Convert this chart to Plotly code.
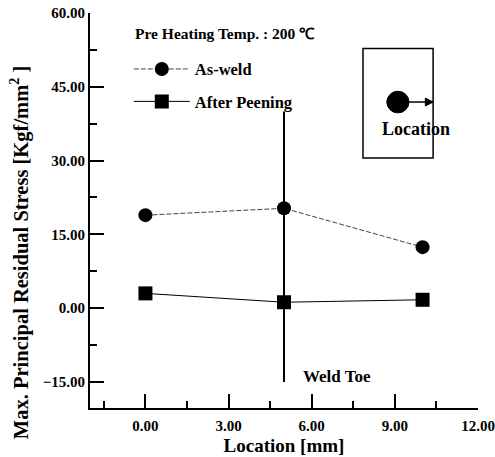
import plotly.graph_objects as go

location = [0, 5, 10]
as_weld = [18.9, 20.3, 12.4]
after_peening = [3.0, 1.2, 1.7]
x_ticks = [0, 3, 6, 9, 12]
y_ticks = [-15, 0, 15, 30, 45, 60]
weld_toe_x = 5

FONT = "Liberation Serif"

fig = go.Figure()
fig.add_trace(go.Scatter(
    x=location, y=as_weld, mode="lines+markers", name="<b>As-weld</b>",
    legendgroup="a",
    line=dict(color="#444", width=1, dash="5px,2px"),
    marker=dict(symbol="circle", size=14, color="black"),
))
fig.add_trace(go.Scatter(
    x=location, y=after_peening, mode="lines+markers", name="<b>After Peening</b>",
    legendgroup="b",
    line=dict(color="black", width=1),
    marker=dict(symbol="square", size=14, color="black"),
))

# weld toe vertical line
fig.add_shape(type="line", x0=weld_toe_x, x1=weld_toe_x, y0=-15, y1=40,
              xref="x", yref="y", line=dict(color="black", width=2))
fig.add_annotation(x=weld_toe_x + 0.6, y=-13.8, xref="x", yref="y",
                   text="<b>Weld Toe</b>", showarrow=False, xanchor="left",
                   font=dict(family=FONT, size=17, color="black"))

# inset box
fig.add_shape(type="rect", x0=7.85, x1=10.38, y0=30.5, y1=52.8,
              xref="x", yref="y", line=dict(color="black", width=1.5))
fig.add_shape(type="circle", x0=9.11 - 0.4, x1=9.11 + 0.4, y0=41.9 - 2.2, y1=41.9 + 2.2,
              xref="x", yref="y", line=dict(color="black", width=1), fillcolor="black")
fig.add_shape(type="line", x0=9.5, x1=10.15, y0=41.9, y1=41.9,
              xref="x", yref="y", line=dict(color="black", width=1.5))
fig.add_shape(type="path", path="M 10.1 42.7 L 10.38 41.9 L 10.1 41.1 Z",
              xref="x", yref="y", line=dict(color="black", width=1), fillcolor="black")
fig.add_annotation(x=9.75, y=36.5, xref="x", yref="y", text="<b>Location</b>",
                   showarrow=False, font=dict(family=FONT, size=18, color="black"))

fig.add_annotation(x=-0.45, y=55.9, xref="x", yref="y", xanchor="left",
                   text="<b>Pre Heating Temp. : 200 ℃</b>", showarrow=False,
                   font=dict(family=FONT, size=15.5, color="black"))

# y title
fig.add_annotation(x=-0.18, y=0.395, xref="paper", yref="paper",
                   xanchor="center", yanchor="middle",
                   text="<b>Max. Principal Residual Stress [Kgf/mm<sup>2</sup> ]</b>",
                   textangle=-90, showarrow=False,
                   font=dict(family=FONT, size=20.5, color="black"))

axis_common = dict(
    showgrid=False, zeroline=False, showline=True, linecolor="black", linewidth=2,
    ticks="inside", ticklen=14, tickwidth=1.5, tickcolor="black",
    tickformat=".2f", tickfont=dict(family=FONT, size=15, color="black", weight="bold"),
    mirror=False, automargin=False,
)

fig.update_xaxes(range=[-2, 12], tickvals=x_ticks, ticklabelstandoff=3,
                 minor=dict(ticks="inside", ticklen=7, tickwidth=1.5, tickcolor="black",
                            tickvals=[-1.5, 1.5, 4.5, 7.5, 10.5]),
                 title=dict(text="<b>Location [mm]</b>", font=dict(family=FONT, size=19, color="black"),
                            standoff=6),
                 **axis_common)
fig.update_yaxes(range=[-20.3, 60], tickvals=y_ticks,
                 minor=dict(ticks="inside", ticklen=7, tickwidth=1.5, tickcolor="black",
                            tickvals=[-7.5, 7.5, 22.5, 37.5, 52.5]),
                 **axis_common)

fig.update_layout(
    width=495, height=457,
    margin=dict(l=90, r=17, t=13, b=49),
    plot_bgcolor="white", paper_bgcolor="white",
    font=dict(family=FONT, color="black"),
    showlegend=True,
    legend=dict(x=0.1, y=0.902, xanchor="left", yanchor="top",
                bgcolor="rgba(0,0,0,0)", traceorder="grouped", tracegroupgap=8,
                itemwidth=56, font=dict(family=FONT, size=16.5, color="black")),
)

fig.write_html("out.html")
